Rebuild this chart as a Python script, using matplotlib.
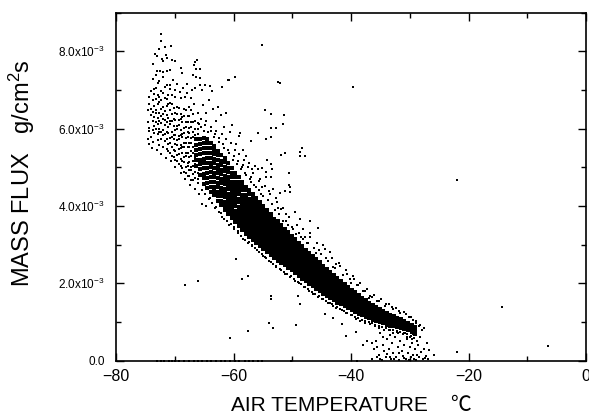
import numpy as np
import matplotlib
matplotlib.use("Agg")
import matplotlib.pyplot as plt
from matplotlib.ticker import MultipleLocator, FuncFormatter

plt.rcParams['font.family'] = ['Liberation Sans', 'Noto Sans CJK JP', 'DejaVu Sans']
plt.rcParams['mathtext.fontset'] = 'custom'
plt.rcParams['mathtext.rm'] = 'Liberation Sans'
plt.rcParams['mathtext.default'] = 'regular'

# flux values below are in units of 1e-3 g/cm2s

# scattered cold end of the cloud: (air temperature, [flux values])
cold_cols = [
    (-74.6, [5.72, 6.18, 6.47]),
    (-74.35, [5.93, 6.02, 6.63, 6.81]),
    (-74.05, [5.78, 6.34, 6.52, 6.97]),
    (-73.75, [5.66, 5.97, 6.21, 6.44, 6.73, 7.28]),
    (-73.5, [5.88, 6.07, 6.3, 6.58, 6.9, 7.02]),
    (-73.2, [5.99, 6.16, 6.41, 6.49, 6.77, 7.04, 7.38]),
    (-72.9, [5.71, 5.86, 6.12, 6.27, 6.63, 6.86, 7.19]),
    (-72.6, [5.58, 5.9, 5.98, 6.2, 6.41, 6.68, 6.83, 7.22]),
    (-72.3, [5.74, 5.92, 6.14, 6.33, 6.52, 6.74, 6.97]),
    (-72.0, [5.52, 5.83, 5.96, 6.24, 6.38, 6.57, 6.93, 7.33]),
    (-71.7, [5.69, 5.87, 6.09, 6.22, 6.46, 6.79, 7.07]),
    (-71.4, [5.47, 5.74, 5.91, 6.18, 6.36, 6.59, 6.76, 7.12]),
    (-71.1, [5.43, 5.61, 5.89, 6.03, 6.27, 6.64, 6.88]),
    (-70.8, [5.37, 5.64, 5.77, 6.13, 6.21, 6.48, 6.66, 7.03]),
    (-70.5, [5.29, 5.52, 5.79, 5.92, 6.19, 6.37, 6.63, 6.87]),
    (-70.2, [5.27, 5.46, 5.73, 5.83, 6.08, 6.26, 6.54]),
    (-69.9, [5.18, 5.43, 5.61, 5.84, 5.97, 6.23, 6.41, 6.82]),
    (-69.6, [5.16, 5.32, 5.58, 5.71, 5.98, 6.07, 6.38, 6.57]),
    (-69.3, [5.08, 5.34, 5.47, 5.73, 5.82, 6.09, 6.22, 6.53]),
    (-69.0, [5.03, 5.22, 5.49, 5.57, 5.83, 5.96, 6.24, 6.37, 6.78]),
    (-68.7, [4.97, 5.17, 5.38, 5.52, 5.78, 5.87, 6.18, 6.31]),
    (-68.4, [4.88, 5.13, 5.27, 5.53, 5.62, 5.88, 6.02, 6.33, 6.52]),
    (-68.1, [4.86, 5.02, 5.28, 5.37, 5.63, 5.77, 6.04, 6.17, 6.48]),
    (-67.8, [4.78, 5.03, 5.12, 5.38, 5.52, 5.78, 5.92, 6.18, 6.32]),
    (-67.5, [4.77, 4.92, 5.13, 5.27, 5.53, 5.62, 5.88, 6.02, 6.33, 6.57]),
    (-67.2, [4.68, 4.93, 5.02, 5.28, 5.42, 5.63, 5.77, 6.03, 6.17, 6.48]),
    (-66.9, [4.67, 4.82, 5.03, 5.17, 5.38, 5.52, 5.78, 5.92, 6.18, 6.37]),
    (-66.6, [4.72, 4.88, 5.09, 5.24, 5.46, 5.6, 5.84, 5.99, 6.21]),
    (-66.0, [4.7, 4.86, 5.85, 5.98, 6.15]),
]

# dense band of the cloud: (air temperature, [flux values])
core_cols = [
    (-66.3, [5.04, 5.19, 5.31, 5.45, 5.57, 5.72]),
    (-65.7, [4.8, 4.95, 5.08, 5.2, 5.35, 5.47, 5.6, 5.74]),
    (-65.1, [4.57, 4.71, 4.83, 4.97, 5.1, 5.22, 5.37, 5.49, 5.62, 5.76]),
    (-64.5, [4.47, 4.6, 4.73, 4.86, 4.98, 5.12, 5.25, 5.37, 5.5, 5.64, 5.74]),
    (-63.9, [4.37, 4.49, 4.62, 4.74, 4.87, 5.0, 5.12, 5.24, 5.37, 5.5, 5.63]),
    (-63.3, [4.27, 4.38, 4.5, 4.62, 4.74, 4.86, 4.98, 5.1, 5.22, 5.34, 5.46, 5.55]),
    (-62.7, [4.14, 4.26, 4.37, 4.49, 4.6, 4.72, 4.84, 4.95, 5.07, 5.19, 5.31, 5.43]),
    (-62.1, [4.02, 4.13, 4.25, 4.36, 4.47, 4.59, 4.7, 4.82, 4.93, 5.05, 5.17, 5.33]),
    (-61.5, [3.9, 4.0, 4.11, 4.22, 4.33, 4.45, 4.56, 4.67, 4.78, 4.9, 5.02, 5.13, 5.24]),
    (-60.9, [3.79, 3.89, 4.0, 4.11, 4.21, 4.32, 4.43, 4.54, 4.64, 4.75, 4.87, 4.98, 5.1]),
    (-60.3, [3.68, 3.78, 3.89, 3.99, 4.1, 4.2, 4.31, 4.42, 4.52, 4.63, 4.74, 4.86, 4.98]),
    (-59.7, [3.58, 3.68, 3.78, 3.88, 3.99, 4.09, 4.2, 4.3, 4.41, 4.51, 4.62, 4.74, 4.86]),
    (-59.1, [3.48, 3.58, 3.68, 3.78, 3.88, 3.98, 4.09, 4.19, 4.3, 4.4, 4.51, 4.63, 4.74]),
    (-58.5, [3.38, 3.48, 3.58, 3.68, 3.78, 3.88, 3.98, 4.08, 4.19, 4.29, 4.4, 4.51, 4.62]),
    (-57.9, [3.28, 3.38, 3.48, 3.58, 3.68, 3.78, 3.88, 3.98, 4.08, 4.18, 4.29, 4.4, 4.5]),
    (-57.3, [3.2, 3.3, 3.39, 3.49, 3.59, 3.69, 3.79, 3.89, 3.99, 4.09, 4.19, 4.3, 4.4]),
    (-56.7, [3.12, 3.22, 3.31, 3.41, 3.51, 3.61, 3.71, 3.81, 3.9, 4.0, 4.1, 4.2, 4.3]),
    (-56.1, [3.04, 3.14, 3.23, 3.33, 3.43, 3.53, 3.62, 3.72, 3.82, 3.92, 4.01, 4.11, 4.2]),
    (-55.5, [2.96, 3.06, 3.15, 3.25, 3.35, 3.44, 3.54, 3.64, 3.73, 3.83, 3.92, 4.02, 4.1]),
    (-54.9, [2.88, 2.98, 3.07, 3.17, 3.26, 3.36, 3.46, 3.55, 3.65, 3.74, 3.84, 3.93, 4.0]),
    (-54.3, [2.8, 2.9, 2.99, 3.09, 3.18, 3.28, 3.37, 3.47, 3.56, 3.66, 3.75, 3.84, 3.9]),
    (-53.7, [2.72, 2.82, 2.91, 3.01, 3.1, 3.19, 3.29, 3.38, 3.48, 3.57, 3.66, 3.76, 3.8]),
    (-53.1, [2.65, 2.74, 2.84, 2.93, 3.02, 3.11, 3.21, 3.3, 3.39, 3.48, 3.58, 3.67]),
    (-52.5, [2.58, 2.67, 2.76, 2.86, 2.95, 3.04, 3.13, 3.22, 3.31, 3.4, 3.5, 3.6]),
    (-51.9, [2.52, 2.61, 2.7, 2.79, 2.88, 2.97, 3.06, 3.15, 3.24, 3.33, 3.42, 3.5]),
    (-51.3, [2.46, 2.55, 2.64, 2.73, 2.82, 2.91, 2.99, 3.08, 3.17, 3.26, 3.35, 3.41]),
    (-50.7, [2.4, 2.49, 2.58, 2.66, 2.75, 2.84, 2.93, 3.01, 3.1, 3.19, 3.27, 3.32]),
    (-50.1, [2.33, 2.42, 2.5, 2.59, 2.68, 2.76, 2.85, 2.94, 3.02, 3.11, 3.19, 3.23]),
    (-49.5, [2.26, 2.35, 2.43, 2.52, 2.6, 2.69, 2.78, 2.86, 2.95, 3.03, 3.11, 3.14]),
    (-48.9, [2.19, 2.28, 2.36, 2.45, 2.53, 2.62, 2.7, 2.79, 2.87, 2.95, 3.04]),
    (-48.3, [2.12, 2.21, 2.29, 2.38, 2.46, 2.54, 2.63, 2.71, 2.79, 2.88, 2.96]),
    (-47.7, [2.05, 2.14, 2.22, 2.3, 2.39, 2.47, 2.55, 2.63, 2.72, 2.8, 2.87]),
    (-47.1, [1.98, 2.07, 2.15, 2.23, 2.31, 2.4, 2.48, 2.56, 2.64, 2.72, 2.78]),
    (-46.5, [1.92, 2.0, 2.08, 2.16, 2.24, 2.33, 2.41, 2.49, 2.57, 2.65, 2.7]),
    (-45.9, [1.86, 1.94, 2.02, 2.1, 2.18, 2.26, 2.34, 2.42, 2.5, 2.57, 2.62]),
    (-45.3, [1.79, 1.87, 1.95, 2.03, 2.11, 2.19, 2.27, 2.35, 2.42, 2.5, 2.54]),
    (-44.7, [1.73, 1.81, 1.89, 1.97, 2.05, 2.12, 2.2, 2.28, 2.36, 2.43, 2.45]),
    (-44.1, [1.67, 1.75, 1.83, 1.9, 1.98, 2.06, 2.13, 2.21, 2.29, 2.37]),
    (-43.5, [1.62, 1.69, 1.77, 1.85, 1.92, 2.0, 2.07, 2.15, 2.23, 2.29]),
    (-42.9, [1.56, 1.64, 1.71, 1.79, 1.86, 1.94, 2.01, 2.09, 2.16, 2.21]),
    (-42.3, [1.5, 1.58, 1.65, 1.73, 1.8, 1.87, 1.95, 2.02, 2.09, 2.13]),
    (-41.7, [1.45, 1.52, 1.6, 1.67, 1.74, 1.81, 1.89, 1.96, 2.03, 2.05]),
    (-41.1, [1.4, 1.47, 1.54, 1.62, 1.69, 1.76, 1.83, 1.9, 1.97]),
    (-40.5, [1.35, 1.42, 1.49, 1.56, 1.63, 1.7, 1.77, 1.84, 1.9]),
    (-39.9, [1.3, 1.37, 1.44, 1.51, 1.58, 1.65, 1.72, 1.79, 1.83]),
    (-39.3, [1.25, 1.32, 1.39, 1.46, 1.53, 1.6, 1.67, 1.74, 1.76]),
    (-38.7, [1.21, 1.28, 1.35, 1.42, 1.48, 1.55, 1.62, 1.69]),
    (-38.1, [1.17, 1.24, 1.31, 1.37, 1.44, 1.51, 1.58, 1.63]),
    (-37.5, [1.13, 1.2, 1.26, 1.33, 1.4, 1.46, 1.52, 1.56]),
    (-36.9, [1.09, 1.16, 1.22, 1.29, 1.35, 1.42, 1.48, 1.5]),
    (-36.3, [1.05, 1.12, 1.18, 1.25, 1.31, 1.37, 1.43]),
    (-35.7, [1.02, 1.08, 1.15, 1.21, 1.27, 1.33, 1.39]),
    (-35.1, [0.99, 1.05, 1.11, 1.17, 1.23, 1.29, 1.34]),
    (-34.5, [0.96, 1.02, 1.08, 1.14, 1.2, 1.26, 1.29]),
    (-33.9, [0.93, 0.99, 1.05, 1.11, 1.17, 1.22, 1.24]),
    (-33.3, [0.9, 0.96, 1.02, 1.08, 1.13, 1.19]),
    (-32.7, [0.88, 0.94, 0.99, 1.05, 1.1, 1.15]),
    (-32.1, [0.86, 0.91, 0.97, 1.02, 1.07, 1.11]),
    (-31.5, [0.84, 0.89, 0.94, 0.99, 1.04, 1.07]),
    (-30.9, [0.81, 0.86, 0.91, 0.96, 1.01, 1.03]),
    (-30.3, [0.78, 0.83, 0.88, 0.93, 0.98]),
    (-29.7, [0.74, 0.79, 0.84, 0.89, 0.93]),
    (-29.1, [0.68, 0.73, 0.78, 0.83, 0.86]),
]

# ragged points along the upper and lower edges of the band
edge_pts = [
    (-65.9, 6.12), (-65.5, 6.05), (-65.0, 5.95), (-64.7, 6.2), (-64.3, 5.9),
    (-63.8, 6.05), (-63.4, 5.78), (-62.9, 5.95), (-62.5, 5.65), (-62.0, 5.85),
    (-61.7, 5.5), (-61.3, 5.72), (-60.8, 5.38), (-60.4, 5.62), (-60.1, 5.2),
    (-59.8, 5.45), (-59.4, 5.08), (-59.0, 5.35), (-58.7, 4.95), (-58.2, 5.18),
    (-57.8, 4.8), (-57.5, 5.0), (-57.1, 4.62), (-56.6, 4.85), (-56.2, 4.48),
    (-55.6, 4.65), (-55.3, 4.3), (-54.7, 4.52), (-54.2, 4.15), (-53.8, 4.3),
    (-53.0, 3.9), (-52.6, 4.1), (-52.2, 3.78), (-51.5, 3.95), (-51.1, 3.6),
    (-50.5, 3.72), (-50.0, 3.45), (-49.2, 3.5), (-48.8, 3.3), (-48.2, 3.4),
    (-47.5, 3.05), (-47.0, 3.2), (-46.3, 2.92), (-45.8, 3.05), (-45.1, 2.75),
    (-44.5, 2.88), (-43.9, 2.58), (-43.2, 2.65), (-42.7, 2.4), (-42.0, 2.52),
    (-41.3, 2.22), (-40.9, 2.35), (-40.2, 2.1), (-39.7, 2.18), (-39.0, 1.95),
    (-38.5, 2.0), (-37.9, 1.8), (-37.3, 1.85), (-36.7, 1.66), (-36.1, 1.7),
    (-35.5, 1.53), (-34.9, 1.58), (-34.2, 1.42), (-33.5, 1.45), (-32.9, 1.32),
    (-32.3, 1.35), (-31.6, 1.22), (-31.0, 1.25), (-30.2, 1.13), (-29.5, 1.05),
    (-28.9, 0.98), (-28.5, 0.88), (-28.0, 0.8),
    (-66.0, 4.6), (-65.3, 4.42), (-64.8, 4.3), (-64.1, 4.18), (-63.6, 4.08),
    (-62.9, 3.98), (-62.2, 3.82), (-61.9, 3.72), (-61.1, 3.62), (-60.5, 3.52),
    (-59.9, 3.45), (-59.3, 3.35), (-58.7, 3.22), (-58.1, 3.12), (-57.4, 3.06),
    (-56.9, 2.98), (-56.3, 2.9), (-55.7, 2.8), (-55.0, 2.7), (-54.6, 2.68),
    (-53.9, 2.58), (-53.3, 2.5), (-52.7, 2.42), (-52.1, 2.36), (-51.4, 2.3),
    (-50.9, 2.24), (-50.2, 2.18), (-49.7, 2.1), (-49.1, 2.04), (-48.5, 1.97),
    (-47.9, 1.9), (-47.3, 1.84), (-46.7, 1.78), (-46.1, 1.72), (-45.4, 1.66),
    (-44.9, 1.6), (-44.2, 1.55), (-43.6, 1.48), (-43.0, 1.42), (-42.5, 1.36),
    (-41.8, 1.32), (-41.2, 1.27), (-40.6, 1.22), (-39.9, 1.19), (-39.4, 1.12),
    (-38.8, 1.1), (-38.2, 1.05), (-37.7, 1.02), (-37.0, 0.99), (-36.5, 0.96),
    (-35.9, 0.92), (-35.3, 0.9), (-34.7, 0.86), (-34.0, 0.84), (-33.4, 0.8),
    (-32.9, 0.79), (-32.2, 0.76), (-31.7, 0.74), (-31.0, 0.72), (-30.5, 0.68),
    (-29.8, 0.64), (-29.3, 0.58),
]

# sparse points round the band
halo_pts = [
    (-72.4, 8.46), (-72.4, 8.27), (-72.7, 8.07), (-71.7, 8.11), (-70.6, 8.13),
    (-73.3, 7.92), (-73.0, 7.88), (-71.5, 7.9), (-71.4, 7.83), (-73.7, 7.68),
    (-72.2, 7.79), (-72.0, 7.75), (-70.5, 7.77), (-70.0, 7.76), (-73.0, 7.5),
    (-72.5, 7.49), (-72.0, 7.46), (-71.4, 7.5), (-70.8, 7.53), (-69.0, 7.57),
    (-68.8, 7.44), (-66.2, 7.77), (-66.6, 7.73), (-66.7, 7.64), (-66.3, 7.55),
    (-65.7, 7.55), (-66.9, 7.38), (-66.3, 7.34), (-65.7, 7.3), (-61.0, 7.25),
    (-59.8, 7.34), (-61.9, 7.08), (-65.7, 7.14), (-65.4, 7.0), (-64.9, 7.14),
    (-64.0, 7.1), (-63.7, 6.97), (-70.3, 7.25), (-69.7, 7.16), (-70.8, 7.12),
    (-70.0, 6.99), (-69.1, 6.95), (-68.6, 7.04), (-68.0, 6.91), (-68.3, 6.83),
    (-67.9, 7.15), (-67.0, 7.0), (-66.5, 7.05), (-67.2, 6.8), (-66.8, 6.65),
    (-66.1, 6.4), (-65.6, 6.25), (-65.2, 6.6), (-64.9, 6.1), (-64.6, 6.4),
    (-64.2, 6.75), (-63.9, 5.95), (-63.5, 6.5), (-63.2, 5.85), (-63.0, 6.2),
    (-62.6, 6.55), (-62.4, 5.75), (-62.2, 6.35), (-61.8, 5.6), (-61.6, 6.05),
    (-61.2, 6.4), (-60.9, 5.45), (-60.6, 5.9), (-60.2, 6.1), (-60.0, 5.3),
    (-59.6, 5.6), (-59.3, 5.15), (-59.1, 5.8), (-58.9, 5.88), (-58.6, 5.0),
    (-58.4, 5.45), (-58.0, 4.85), (-57.9, 5.3), (-57.0, 5.69), (-57.4, 5.1),
    (-57.2, 4.7), (-56.8, 4.95), (-56.5, 4.55), (-56.4, 5.03), (-55.9, 5.89),
    (-55.8, 4.95), (-55.7, 4.4), (-55.2, 4.99), (-54.9, 4.25), (-54.5, 4.89),
    (-53.5, 4.95), (-57.0, 4.74), (-55.5, 4.7), (-54.4, 4.74), (-53.6, 4.74),
    (-55.1, 4.48), (-54.0, 4.38), (-53.4, 4.05), (-58.4, 5.06), (-54.6, 6.47),
    (-53.6, 6.37), (-51.4, 6.34), (-51.6, 6.11), (-53.7, 6.02), (-52.8, 6.02),
    (-54.5, 5.72), (-53.7, 5.78), (-52.0, 5.32), (-51.3, 5.38), (-48.4, 5.49),
    (-48.7, 5.4), (-48.6, 5.3), (-47.8, 5.3), (-54.3, 5.2), (-53.7, 5.08),
    (-50.6, 4.86), (-50.6, 4.54), (-50.4, 4.5), (-50.3, 4.35), (-51.2, 4.39),
    (-52.1, 4.33), (-51.9, 3.91), (-49.6, 3.84), (-48.7, 3.67), (-46.9, 3.6),
    (-45.7, 3.42), (-46.9, 3.31), (-48.5, 3.19), (-49.4, 3.28), (-50.4, 3.19),
    (-50.0, 3.1), (-47.3, 3.05), (-52.8, 4.2), (-53.2, 4.45), (-52.5, 3.95),
    (-51.0, 3.8), (-51.6, 3.62), (-50.8, 3.5), (-49.9, 3.4), (-48.1, 3.15),
    (-44.8, 3.0), (-43.6, 2.8), (-44.2, 2.65), (-42.5, 2.5), (-41.8, 2.45),
    (-40.6, 2.25), (-39.5, 2.1), (-38.8, 1.95), (-37.6, 1.8), (-36.5, 1.65),
    (-35.2, 1.55), (-34.0, 1.45), (-33.0, 1.38), (-31.8, 1.28), (-30.6, 1.2),
    (-29.8, 1.12), (-29.0, 1.02), (-28.3, 0.93), (-27.6, 0.85), (-45.5, 2.85),
    (-47.8, 3.2), (-46.0, 2.78), (-43.0, 2.42), (-40.0, 2.0), (-37.0, 1.62),
    (-74.4, 5.6), (-73.8, 5.5), (-73.1, 5.45), (-72.3, 5.35), (-71.5, 5.25),
    (-70.6, 5.15), (-69.9, 5.0), (-69.0, 4.85), (-68.2, 4.7), (-67.4, 4.55),
    (-66.6, 4.45), (-65.8, 4.3), (-65.4, 4.04), (-64.6, 4.0), (-64.0, 4.2),
    (-63.2, 3.95), (-62.4, 3.85), (-61.6, 3.65), (-60.8, 3.5), (-60.0, 3.4),
    (-59.2, 3.3), (-58.4, 3.15), (-57.6, 3.05), (-56.8, 2.95), (-56.0, 2.85),
    (-55.2, 2.75), (-54.4, 2.65), (-53.6, 2.55), (-52.8, 2.45), (-52.0, 2.35),
    (-51.2, 2.25), (-50.4, 2.15), (-49.6, 2.05), (-48.8, 2.0), (-48.0, 1.9),
    (-47.2, 1.8), (-46.4, 1.72), (-45.6, 1.65), (-44.8, 1.58), (-44.0, 1.5),
    (-43.2, 1.45), (-42.4, 1.38), (-41.6, 1.3), (-40.8, 1.22), (-40.0, 1.18),
    (-39.2, 1.08), (-38.4, 1.02), (-37.6, 0.98), (-36.8, 0.95), (-36.0, 0.9),
    (-35.2, 0.85), (-34.4, 0.8), (-33.6, 0.78), (-32.8, 0.72), (-32.0, 0.7),
    (-31.2, 0.68), (-30.4, 0.62), (-29.6, 0.55), (-28.8, 0.5),
    (-60.6, 0.59), (-57.6, 0.77), (-53.6, 1.66), (-53.6, 1.59), (-54.0, 0.97),
    (-53.2, 0.84), (-49.4, 0.92), (-58.6, 2.11), (-57.6, 2.18), (-59.5, 2.63),
    (-40.8, 0.63), (-39.1, 0.73), (-38.0, 0.4), (-37.2, 0.5), (-36.4, 0.45),
    (-48.7, 1.45), (-49.0, 1.66), (-68.3, 1.96), (-66.0, 2.06),
    (-44.4, 1.2), (-43.0, 1.1), (-41.5, 0.95),
]

# cloud near zero at the warm end of the band
low_pts = [
    (-35.8, 0.5), (-35.5, 0.35), (-35.2, 0.15), (-35.0, 0.05), (-34.6, 0.4),
    (-34.3, 0.25), (-34.0, 0.1), (-33.8, 0.55), (-33.5, 0.3), (-33.2, 0.05),
    (-33.0, 0.45), (-32.8, 0.2), (-32.5, 0.6), (-32.3, 0.1), (-32.0, 0.35),
    (-31.8, 0.02), (-31.6, 0.5), (-31.4, 0.25), (-31.1, 0.12), (-30.9, 0.4),
    (-30.7, 0.03), (-30.5, 0.55), (-30.3, 0.2), (-30.0, 0.35), (-29.8, 0.08),
    (-29.6, 0.45), (-29.4, 0.15), (-29.1, 0.3), (-28.9, 0.02), (-28.6, 0.4),
    (-28.4, 0.1), (-28.1, 0.22), (-27.8, 0.05), (-27.5, 0.3), (-27.2, 0.12),
    (-26.9, 0.03), (-26.7, 0.28), (-25.8, 0.15), (-34.8, 0.02), (-33.9, 0.18),
    (-32.6, 0.03), (-31.9, 0.2), (-30.1, 0.02), (-29.9, 0.6), (-28.7, 0.15),
    (-34.5, 0.6), (-35.6, 0.1), (-36.1, 0.3), (-36.4, 0.05), (-33.4, 0.08),
    (-31.0, 0.06), (-29.2, 0.05), (-27.4, 0.07), (-32.1, 0.75), (-30.8, 0.7),
    (-29.5, 0.68), (-33.3, 0.65), (-28.2, 0.6), (-27.0, 0.45), (-35.1, 0.7),
]

# outliers well away from the band
far_pts = [
    (-55.2, 8.16), (-52.4, 7.21), (-52.1, 7.17), (-39.6, 7.08), (-60.8, 7.25),
    (-21.9, 4.66), (-14.3, 1.39), (-6.45, 0.38), (-21.9, 0.23), (-26.7, 0.28),
]

# points sitting on the zero line
zero_t = [-73.0, -72.4, -71.8, -71.0, -70.5, -69.9, -69.2, -68.5, -67.6, -66.8,
          -66.0, -65.3, -64.5, -63.8, -63.0, -62.2, -61.5, -60.6, -59.8, -59.0,
          -58.1, -57.4, -56.6, -55.8, -55.1, -50.2, -39.0]

fig = plt.figure(figsize=(5.89, 4.17), dpi=100)
ax = fig.add_axes([116 / 589, (417 - 360.5) / 417, 470 / 589, 347.8 / 417])


def unpack(cols):
    ts = [t for t, fs in cols for f in fs]
    fl = [f for t, fs in cols for f in fs]
    return ts, np.array(fl) * 1e-3


def unpack_pts(pts):
    return [p[0] for p in pts], np.array([p[1] for p in pts]) * 1e-3


core_t, core_f = unpack(core_cols)
ax.scatter(core_t, core_f, s=8.5, marker='s', c='black', linewidths=0)

cold_t, cold_f = unpack(cold_cols)
ax.scatter(cold_t, cold_f, s=4.2, marker='s', c='black', linewidths=0)

edge_t, edge_f = unpack_pts(edge_pts)
ax.scatter(edge_t, edge_f, s=3.6, marker='s', c='black', linewidths=0)

sp_t, sp_f = unpack_pts(halo_pts + low_pts + far_pts)
ax.scatter(sp_t, sp_f, s=3.0, marker='s', c='black', linewidths=0)
ax.scatter(zero_t, np.zeros(len(zero_t)), s=3.0, marker='s', c='black', linewidths=0)

ax.set_xlim(-80, 0)
ax.set_ylim(0, 9e-3)
ax.xaxis.set_major_locator(MultipleLocator(20))
ax.xaxis.set_minor_locator(MultipleLocator(10))
ax.yaxis.set_major_locator(MultipleLocator(2e-3))
ax.yaxis.set_minor_locator(MultipleLocator(1e-3))


def yfmt(v, pos):
    if abs(v) < 1e-9:
        return '0.0'
    return '%.1fx10$^{-3}$' % (v * 1e3)


ax.yaxis.set_major_formatter(FuncFormatter(yfmt))
ax.tick_params(which='both', direction='in', top=True, right=True, width=1)
ax.tick_params(which='major', length=6)
ax.tick_params(which='minor', length=3.5)
ax.tick_params(axis='x', labelsize=11.5, pad=6)
ax.tick_params(axis='y', labelsize=8.5, pad=8)
for sp in ax.spines.values():
    sp.set_linewidth(1.2)

ax.set_xlabel('AIR TEMPERATURE    ℃', fontsize=15, labelpad=9)
ax.set_ylabel('MASS FLUX   g/cm$^2$s', fontsize=17)
ax.yaxis.set_label_coords(-0.168, 0.54)

fig.savefig('out.png', dpi=100)
